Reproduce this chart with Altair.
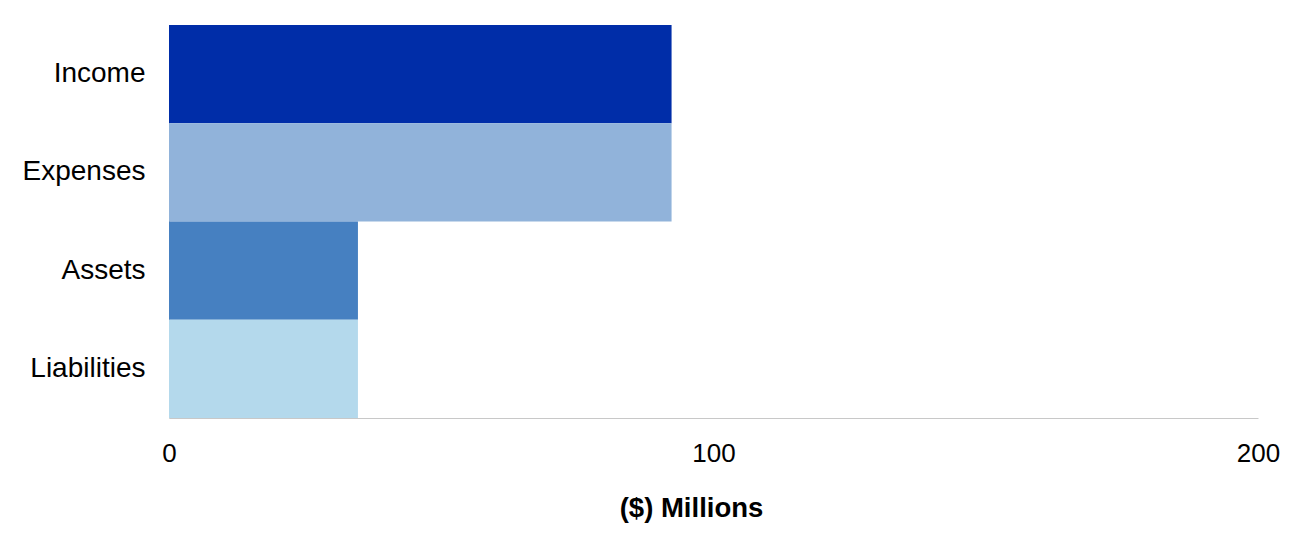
import altair as alt
import pandas as pd

categories = ["Income", "Expenses", "Assets", "Liabilities"]
values = [92.3, 92.3, 34.7, 34.7]
colors = ["#002DA8", "#91B3DA", "#4680C1", "#B4D9EC"]

df = pd.DataFrame({"category": categories, "value": values})

chart = alt.Chart(df).mark_bar().encode(
    y=alt.Y("category:N", sort=categories,
            scale=alt.Scale(paddingInner=0, paddingOuter=0),
            axis=alt.Axis(title=None, ticks=False, domain=True, domainColor="#C8C8C8",
                          labelFont="Liberation Sans", labelFontSize=28, labelColor="#000000",
                          labelPadding=24)),
    x=alt.X("value:Q", scale=alt.Scale(domain=[0, 200], nice=False),
            axis=alt.Axis(title="($) Millions", values=[0, 100, 200], ticks=False, grid=False,
                          domainColor="#C8C8C8", labelFont="Liberation Sans", labelFontSize=26,
                          labelColor="#000000", labelPadding=22, labelFlush=False,
                          titleFont="Liberation Sans", titleFontSize=27.5, titleFontWeight="bold",
                          titleColor="#000000", titleX=522, titleY=90,
                          titleBaseline="middle", titleAlign="center")),
    color=alt.Color("category:N", scale=alt.Scale(domain=categories, range=colors), legend=None),
).properties(
    width=1089, height=393,
    autosize=alt.AutoSizeParams(type="none"),
    padding={"left": 161, "top": 17, "right": 40, "bottom": 120},
).configure_view(stroke=None)

chart.save("out.html", embed_options={"renderer": "svg", "actions": False})
